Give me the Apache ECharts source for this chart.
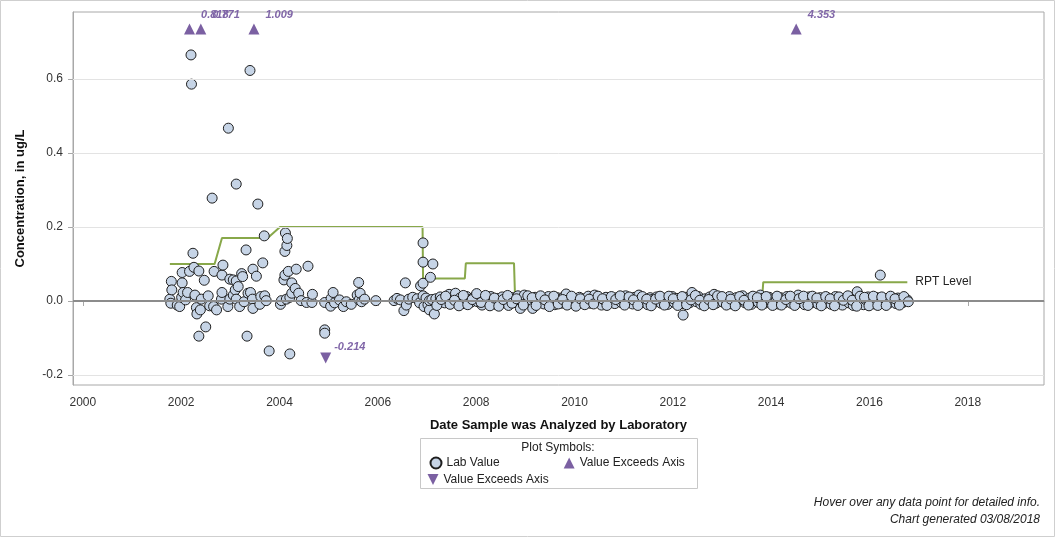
<!DOCTYPE html>
<html>
<head>
<meta charset="utf-8">
<title>Concentration by Date Analyzed</title>
<script src="https://cdn.jsdelivr.net/npm/echarts@6.0.0/dist/echarts.min.js"></script>
<style>
    html, body { margin: 0; padding: 0; background: #fff; }
    #chart { width: 1056px; height: 538px; }
</style>
</head>
<body>
<div id="chart"></div>
<script>
// 坐标轴刻度
const xTicks = [2000, 2002, 2004, 2006, 2008, 2010, 2012, 2014, 2016, 2018];
const yTicks = [-0.2, 0, 0.2, 0.4, 0.6];

// 实验室测定值 [年份, 浓度]
const labValues = [
    [2001.77, 0.005], [2001.79, -0.006], [2001.80, 0.053], [2001.81, 0.030], [2001.92, -0.011],
    [2001.97, -0.015], [2002.01, 0.010], [2002.02, 0.077], [2002.02, 0.049], [2002.04, 0.023],
    [2002.09, 0.003], [2002.13, 0.023], [2002.17, 0.080], [2002.20, 0.665], [2002.21, 0.586],
    [2002.24, 0.129], [2002.26, 0.091], [2002.28, 0.016], [2002.31, -0.018], [2002.32, -0.035],
    [2002.36, 0.081], [2002.36, -0.095], [2002.39, -0.024], [2002.41, 0.005], [2002.47, 0.056],
    [2002.50, -0.070], [2002.55, 0.014], [2002.58, -0.013], [2002.63, 0.278], [2002.66, -0.015],
    [2002.67, 0.080], [2002.72, -0.024], [2002.82, 0.005], [2002.83, 0.070], [2002.83, 0.023],
    [2002.85, 0.097], [2002.95, -0.015], [2002.96, 0.467], [2002.99, 0.059], [2002.99, 0.005],
    [2003.06, 0.057], [2003.06, 0.016], [2003.10, 0.030], [2003.12, 0.316], [2003.12, 0.054],
    [2003.12, 0.005], [2003.16, 0.039], [2003.19, -0.015], [2003.23, 0.074], [2003.25, 0.066],
    [2003.28, -0.002], [2003.32, 0.138], [2003.34, -0.095], [2003.36, 0.021], [2003.40, 0.623],
    [2003.41, 0.023], [2003.45, 0.005], [2003.46, 0.086], [2003.46, -0.020], [2003.53, 0.067],
    [2003.56, 0.262], [2003.60, -0.009], [2003.62, 0.012], [2003.66, 0.103], [2003.69, 0.176],
    [2003.70, 0.014], [2003.73, 0.001], [2003.79, -0.135], [2004.02, -0.009], [2004.04, 0.001],
    [2004.09, 0.057], [2004.11, 0.070], [2004.11, 0.134], [2004.12, 0.184], [2004.14, 0.005],
    [2004.15, 0.150], [2004.16, 0.169], [2004.18, 0.080], [2004.21, 0.010], [2004.21, -0.143],
    [2004.25, 0.049], [2004.25, 0.021], [2004.32, 0.034], [2004.34, 0.086], [2004.39, 0.021],
    [2004.44, 0.001], [2004.55, -0.004], [2004.58, 0.094], [2004.66, -0.004], [2004.67, 0.018],
    [2004.92, -0.004], [2004.92, -0.078], [2004.92, -0.087], [2005.04, -0.014], [2005.05, 0.007],
    [2005.09, 0.023], [2005.12, -0.005], [2005.22, 0.003], [2005.30, -0.015], [2005.36, -0.002],
    [2005.46, -0.009], [2005.58, 0.016], [2005.61, 0.050], [2005.62, 0.003], [2005.64, 0.021],
    [2005.67, -0.002], [2005.73, 0.005], [2005.96, 0.001], [2006.33, 0.001], [2006.39, 0.007],
    [2006.46, 0.003], [2006.53, -0.026], [2006.56, 0.049], [2006.58, -0.011], [2006.63, 0.005],
    [2006.71, 0.010], [2006.80, 0.006], [2006.85, -0.005], [2006.87, 0.041], [2006.92, 0.157],
    [2006.92, 0.105], [2006.92, 0.048], [2006.92, 0.014], [2006.94, -0.015], [2006.98, 0.008],
    [2007.02, -0.010], [2007.05, -0.024], [2007.05, 0.001], [2007.07, 0.064], [2007.10, 0.004],
    [2007.12, 0.100], [2007.15, -0.035],
    [2007.18, 0.006], [2007.22, -0.008], [2007.27, 0.011], [2007.31, 0.002], [2007.36, -0.005],
    [2007.40, 0.009], [2007.45, 0.018], [2007.49, -0.002], [2007.54, 0.005], [2007.58, 0.021],
    [2007.63, -0.004], [2007.67, 0.008], [2007.72, 0.001], [2007.76, -0.007], [2007.81, 0.012],
    [2007.85, 0.003], [2007.90, -0.003], [2007.94, 0.009], [2007.99, 0.013],
    [2008.03, -0.002], [2008.08, 0.006], [2008.12, -0.011], [2008.17, 0.010], [2008.21, 0.001],
    [2008.26, -0.006], [2008.30, 0.012], [2008.35, 0.004], [2008.39, -0.009], [2008.44, 0.007],
    [2008.48, 0.000], [2008.53, 0.011], [2008.57, -0.004], [2008.62, 0.006], [2008.66, -0.012],
    [2008.71, 0.003], [2008.75, 0.009], [2008.80, -0.003], [2008.85, 0.014], [2008.90, -0.020],
    [2008.94, 0.005], [2008.98, 0.016],
    [2009.03, -0.005], [2009.07, 0.008], [2009.12, 0.002], [2009.15, -0.020], [2009.20, 0.010],
    [2009.24, -0.004], [2009.29, 0.006], [2009.33, 0.000], [2009.38, -0.008], [2009.42, 0.007],
    [2009.47, 0.012], [2009.51, -0.003], [2009.56, 0.004], [2009.60, -0.010], [2009.65, 0.009],
    [2009.69, 0.002], [2009.74, -0.006], [2009.78, 0.011], [2009.83, 0.019], [2009.87, 0.001],
    [2009.92, -0.005], [2009.96, 0.008],
    [2010.01, 0.003], [2010.05, -0.009], [2010.10, 0.010], [2010.14, 0.000], [2010.19, -0.004],
    [2010.23, 0.007], [2010.28, 0.013], [2010.32, -0.006], [2010.37, 0.005], [2010.41, 0.016],
    [2010.46, -0.002], [2010.50, 0.008], [2010.55, -0.011], [2010.59, 0.004], [2010.64, 0.010],
    [2010.68, -0.003], [2010.73, 0.006], [2010.77, 0.001], [2010.82, -0.007], [2010.86, 0.009],
    [2010.91, 0.002], [2010.95, -0.004],
    [2011.00, 0.008], [2011.04, 0.014], [2011.09, -0.003], [2011.13, 0.005], [2011.18, -0.008],
    [2011.22, 0.010], [2011.27, 0.001], [2011.31, 0.016], [2011.36, -0.005], [2011.40, 0.007],
    [2011.45, 0.002], [2011.49, -0.010], [2011.54, 0.009], [2011.58, 0.004], [2011.63, -0.003],
    [2011.67, 0.011], [2011.72, 0.000], [2011.76, -0.006], [2011.81, 0.008], [2011.85, 0.003],
    [2011.90, -0.009], [2011.94, 0.006], [2011.99, 0.012],
    [2012.03, -0.004], [2012.08, 0.007], [2012.12, 0.001], [2012.17, -0.007], [2012.21, -0.038],
    [2012.25, 0.010], [2012.30, 0.004], [2012.34, -0.005], [2012.39, 0.023], [2012.43, 0.008],
    [2012.48, -0.002], [2012.52, 0.012], [2012.57, -0.009], [2012.61, 0.003], [2012.66, 0.006],
    [2012.70, -0.004], [2012.75, 0.011], [2012.79, 0.001], [2012.84, 0.018], [2012.88, -0.006],
    [2012.93, 0.005], [2012.97, 0.009],
    [2013.02, -0.003], [2013.06, 0.007], [2013.11, 0.000], [2013.15, 0.012], [2013.20, -0.008],
    [2013.24, 0.004], [2013.29, 0.009], [2013.33, -0.002], [2013.38, 0.006], [2013.42, 0.014],
    [2013.47, -0.005], [2013.51, 0.003], [2013.56, 0.008], [2013.60, -0.009], [2013.65, 0.005],
    [2013.69, 0.001], [2013.74, -0.004], [2013.78, 0.016], [2013.83, 0.007], [2013.87, -0.006],
    [2013.92, 0.004], [2013.96, 0.010],
    [2014.01, -0.002], [2014.05, 0.006], [2014.10, 0.001], [2014.14, -0.008], [2014.19, 0.009],
    [2014.23, 0.003], [2014.28, -0.004], [2014.32, 0.012], [2014.37, 0.005], [2014.41, -0.006],
    [2014.46, 0.008], [2014.50, 0.002], [2014.55, 0.016], [2014.59, -0.003], [2014.64, 0.007],
    [2014.68, -0.010], [2014.73, 0.004], [2014.77, 0.011], [2014.82, -0.005], [2014.86, 0.006],
    [2014.91, 0.000], [2014.95, -0.008],
    [2015.00, 0.009], [2015.04, 0.003], [2015.09, -0.006], [2015.13, 0.010], [2015.18, 0.001],
    [2015.22, -0.009], [2015.27, 0.005], [2015.31, 0.012], [2015.36, -0.003], [2015.40, 0.007],
    [2015.45, -0.011], [2015.49, 0.004], [2015.54, 0.009], [2015.58, -0.005], [2015.63, 0.006],
    [2015.67, -0.012], [2015.72, 0.002], [2015.75, 0.025], [2015.79, -0.007], [2015.83, 0.008],
    [2015.88, -0.010], [2015.92, 0.004], [2015.97, 0.011],
    [2016.01, -0.004], [2016.06, 0.006], [2016.10, -0.008], [2016.15, 0.009], [2016.19, 0.002],
    [2016.22, 0.070], [2016.27, -0.006], [2016.31, 0.007], [2016.36, 0.001], [2016.40, -0.005],
    [2016.45, 0.010], [2016.49, 0.003], [2016.54, -0.007], [2016.58, 0.008], [2016.63, 0.002],
    [2016.68, -0.004], [2016.72, 0.006], [2016.77, 0.003],
    // 密集区第二层
    [2007.20, -0.012], [2007.29, 0.004], [2007.38, 0.013], [2007.47, -0.009], [2007.56, 0.002],
    [2007.65, -0.013], [2007.74, 0.015], [2007.83, -0.010], [2007.92, 0.004],
    [2008.01, 0.020], [2008.10, -0.004], [2008.19, 0.015], [2008.28, -0.013], [2008.37, 0.008],
    [2008.46, -0.014], [2008.55, 0.004], [2008.64, 0.015], [2008.73, -0.006], [2008.82, 0.006],
    [2008.96, -0.011],
    [2009.05, 0.014], [2009.14, 0.009], [2009.22, -0.012], [2009.31, 0.014], [2009.40, 0.003],
    [2009.49, -0.015], [2009.58, 0.013], [2009.67, -0.008], [2009.76, 0.004], [2009.85, -0.011],
    [2009.94, 0.013],
    [2010.03, -0.014], [2010.12, 0.006], [2010.21, -0.010], [2010.30, 0.005], [2010.39, -0.008],
    [2010.48, 0.013], [2010.57, 0.006], [2010.66, -0.012], [2010.75, 0.012], [2010.84, 0.004],
    [2010.93, 0.014],
    [2011.02, -0.011], [2011.11, 0.011], [2011.20, 0.003], [2011.29, -0.012], [2011.38, 0.012],
    [2011.47, 0.005], [2011.56, -0.013], [2011.65, 0.005], [2011.74, 0.013], [2011.83, -0.011],
    [2011.92, 0.013],
    [2012.01, 0.006], [2012.10, -0.012], [2012.19, 0.012], [2012.28, -0.010], [2012.37, 0.003],
    [2012.46, 0.015], [2012.55, 0.002], [2012.64, -0.013], [2012.73, 0.004], [2012.82, -0.010],
    [2012.91, 0.014],
    [2013.00, 0.012], [2013.09, -0.011], [2013.18, 0.005], [2013.27, -0.013], [2013.36, 0.012],
    [2013.45, 0.002], [2013.54, -0.011], [2013.63, 0.013], [2013.72, 0.009], [2013.81, -0.011],
    [2013.90, 0.012],
    [2014.03, -0.012], [2014.12, 0.013], [2014.21, -0.011], [2014.30, 0.004], [2014.39, 0.013],
    [2014.48, -0.012], [2014.57, 0.006], [2014.66, 0.013], [2014.75, -0.012], [2014.84, 0.013],
    [2014.93, 0.008],
    [2015.02, -0.013], [2015.11, 0.012], [2015.20, 0.006], [2015.29, -0.013], [2015.38, 0.011],
    [2015.47, 0.002], [2015.56, 0.014], [2015.65, 0.002], [2015.74, -0.014], [2015.81, 0.013],
    [2015.90, 0.010], [2015.99, -0.013],
    [2016.08, 0.013], [2016.17, -0.012], [2016.25, 0.011], [2016.34, -0.012], [2016.43, 0.013],
    [2016.52, 0.006], [2016.61, -0.011], [2016.70, 0.012], [2016.79, -0.002]
];

// 超出坐标轴范围的值
const highDates = [2002.17, 2002.40, 2003.48, 2014.51];
const highValues = [0.818, 0.771, 1.009, 4.353];
const lowDates = [2004.94];
const lowValues = [-0.214];
const highPlotLevel = 0.735;
const lowPlotLevel = -0.154;

// RPT Level 阶梯线
const rptLevel = [
    [2001.77, 0.1], [2002.68, 0.1], [2002.83, 0.17], [2003.76, 0.17], [2004.01, 0.2],
    [2006.91, 0.2], [2006.92, 0.061], [2007.77, 0.061], [2007.79, 0.102], [2008.77, 0.102],
    [2008.79, 0.015], [2013.82, 0.015], [2013.84, 0.051], [2016.77, 0.051]
];

const fontFamily = '"Liberation Sans", Arial, sans-serif';
const purple = '#7b60a2';

const chart = echarts.init(document.getElementById('chart'), null, { renderer: 'canvas' });

const option = {
    animation: false,
    textStyle: { fontFamily: fontFamily },
    tooltip: { trigger: 'item' },
    grid: {
        left: 73, right: 12, top: 12, bottom: 153,
        show: true, borderColor: '#a8a8a8', borderWidth: 1
    },
    xAxis: {
        type: 'value',
        min: 1999.8,
        max: 2019.55,
        name: 'Date Sample was Analyzed by Laboratory',
        nameLocation: 'middle',
        nameGap: 34,
        nameTextStyle: { fontWeight: 'bold', fontSize: 13, color: '#111' },
        axisLine: { lineStyle: { color: '#a8a8a8' } },
        axisTick: { customValues: xTicks, length: 5, lineStyle: { color: '#a8a8a8' } },
        axisLabel: {
            customValues: xTicks, fontSize: 12, color: '#333', margin: 12,
            formatter: v => String(v)
        },
        splitLine: { show: false }
    },
    yAxis: {
        type: 'value',
        min: -0.227,
        max: 0.781,
        name: 'Concentration, in ug/L',
        nameLocation: 'middle',
        nameGap: 46,
        nameTextStyle: { fontWeight: 'bold', fontSize: 13, color: '#111' },
        axisLine: { show: true, lineStyle: { color: '#a8a8a8' } },
        axisTick: { show: true, customValues: yTicks, length: 5, lineStyle: { color: '#a8a8a8' } },
        axisLabel: {
            customValues: yTicks, fontSize: 12, color: '#333', margin: 10,
            formatter: v => v.toFixed(1)
        },
        splitLine: { show: false }
    },
    legend: [
        {
            data: ['Lab Value', 'Value Exceeds Axis (high)'],
            left: 429.5, top: 456.5, padding: 0,
            itemWidth: 11, itemHeight: 11, itemGap: 64,
            textStyle: { fontSize: 12, color: '#222' },
            formatter: name => name.replace(/ \(.*\)$/, '')
        },
        {
            data: ['Value Exceeds Axis (low)'],
            left: 427.5, top: 473.5, padding: 0,
            itemWidth: 11, itemHeight: 11,
            textStyle: { fontSize: 12, color: '#222' },
            formatter: name => name.replace(/ \(.*\)$/, '')
        }
    ],
    graphic: [
        // 外边框
        { type: 'rect', silent: true, shape: { x: 0.5, y: 0.5, width: 1054, height: 536 },
          style: { fill: null, stroke: '#cfcfcf', lineWidth: 1 } },
        // 图例框
        { type: 'rect', silent: true, shape: { x: 420.5, y: 438.5, width: 277, height: 50 },
          style: { fill: null, stroke: '#c8c8c8', lineWidth: 1 } },
        { type: 'text', silent: true, x: 558, y: 448,
          style: { text: 'Plot Symbols:', fontSize: 12, fill: '#222', font: '12px ' + fontFamily,
                   textAlign: 'center', textVerticalAlign: 'middle' } },
        // 页脚
        { type: 'text', silent: true, x: 1040, y: 503,
          style: { text: 'Hover over any data point for detailed info.', font: 'italic 12px ' + fontFamily,
                   fill: '#222', textAlign: 'right', textVerticalAlign: 'middle' } },
        { type: 'text', silent: true, x: 1040, y: 520,
          style: { text: 'Chart generated 03/08/2018', font: 'italic 12px ' + fontFamily,
                   fill: '#222', textAlign: 'right', textVerticalAlign: 'middle' } }
    ],
    series: [
        {
            name: 'RPT Level',
            type: 'line',
            data: rptLevel,
            symbol: 'none',
            z: 2,
            lineStyle: { color: '#88a84a', width: 2 },
            endLabel: { show: true, formatter: 'RPT Level', fontSize: 12, color: '#222', distance: 8 },
            tooltip: { show: false },
            markLine: {
                silent: true,
                symbol: 'none',
                label: { show: false },
                lineStyle: { color: '#e3e3e3', width: 1, type: 'solid' },
                data: yTicks.filter(v => v !== 0).map(v => ({ yAxis: v })).concat([
                    { yAxis: 0, lineStyle: { color: '#8c8c8c', width: 2, type: 'solid' } }
                ])
            }
        },
        {
            name: 'Lab Value',
            type: 'scatter',
            data: labValues,
            symbol: 'circle',
            symbolSize: 10,
            z: 3,
            itemStyle: { color: '#c6d4e6', borderColor: '#1e1e1e', borderWidth: 1, opacity: 1 }
        },
        {
            name: 'Value Exceeds Axis (high)',
            type: 'scatter',
            data: highDates.map((d, i) => [d, highPlotLevel, highValues[i]]),
            symbol: 'triangle',
            symbolSize: 11,
            z: 4,
            itemStyle: { color: purple, opacity: 1 },
            label: {
                show: true,
                position: [17, -14],
                formatter: p => p.data[2].toFixed(3),
                color: '#8066a8',
                fontSize: 11,
                fontWeight: 'bold',
                fontStyle: 'italic'
            }
        },
        {
            name: 'Value Exceeds Axis (low)',
            type: 'scatter',
            data: lowDates.map((d, i) => [d, lowPlotLevel, lowValues[i]]),
            symbol: 'path://M0,0 L10,0 L5,10 Z',
            symbolSize: 11,
            z: 4,
            itemStyle: { color: purple, opacity: 1 },
            label: {
                show: true,
                position: [14, -11],
                formatter: p => p.data[2].toFixed(3),
                color: '#8066a8',
                fontSize: 11,
                fontWeight: 'bold',
                fontStyle: 'italic'
            }
        }
    ]
};

chart.setOption(option);
</script>
</body>
</html>
